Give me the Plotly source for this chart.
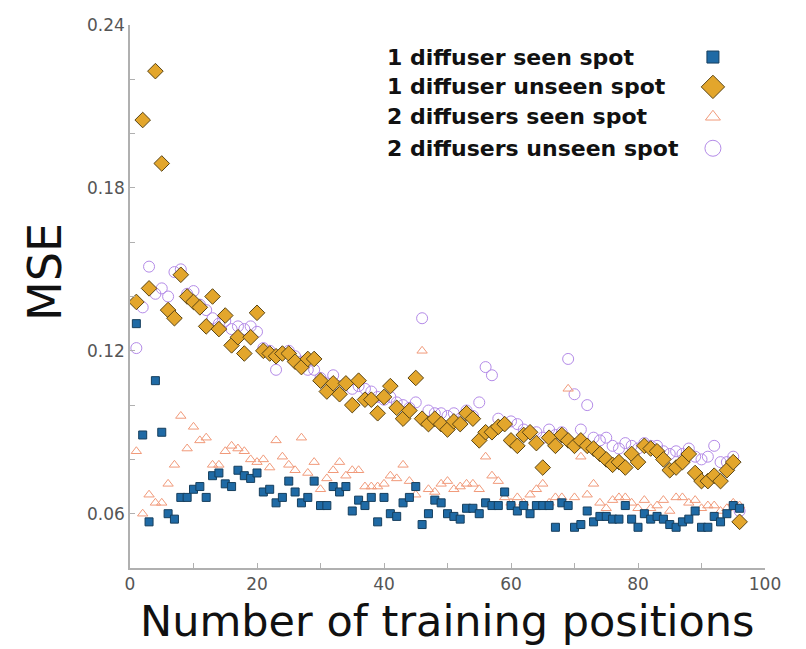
import plotly.graph_objects as go

# Number of training positions (1..96)
positions = list(range(1, 97))

# MSE, 1 diffuser, seen spot
mse_1d_seen = [
    0.130, 0.089, 0.057, 0.109, 0.090, 0.060, 0.058, 0.066, 0.066, 0.069,
    0.070, 0.066, 0.074, 0.075, 0.071, 0.070, 0.076, 0.074, 0.073, 0.075,
    0.068, 0.069, 0.064, 0.066, 0.072, 0.068, 0.064, 0.066, 0.072, 0.063,
    0.063, 0.070, 0.068, 0.070, 0.061, 0.065, 0.063, 0.066, 0.057, 0.066,
    0.060, 0.059, 0.064, 0.066, 0.070, 0.056, 0.060, 0.065, 0.064, 0.060,
    0.059, 0.058, 0.062, 0.062, 0.060, 0.064, 0.063, 0.063, 0.068, 0.063,
    0.061, 0.063, 0.060, 0.063, 0.063, 0.063, 0.055, 0.064, 0.063, 0.055,
    0.056, 0.061, 0.057, 0.059, 0.059, 0.058, 0.058, 0.063, 0.058, 0.055,
    0.060, 0.058, 0.059, 0.058, 0.056, 0.055, 0.057, 0.058, 0.061, 0.055,
    0.055, 0.059, 0.057, 0.060, 0.063, 0.062,
]

# MSE, 1 diffuser, unseen spot
mse_1d_unseen = [
    0.138, 0.205, 0.143, 0.223, 0.189, 0.135, 0.132, 0.148, 0.140, 0.138,
    0.136, 0.129, 0.140, 0.128, 0.133, 0.122, 0.125, 0.119, 0.125, 0.134,
    0.120, 0.119, 0.118, 0.119, 0.119, 0.116, 0.114, 0.117, 0.117, 0.109,
    0.105, 0.108, 0.104, 0.108, 0.100, 0.109, 0.102, 0.102, 0.097, 0.103,
    0.107, 0.099, 0.095, 0.098, 0.110, 0.095, 0.093, 0.095, 0.093, 0.091,
    0.094, 0.093, 0.097, 0.095, 0.087, 0.090, 0.090, 0.092, 0.093, 0.087,
    0.085, 0.089, 0.090, 0.086, 0.077, 0.088, 0.085, 0.089, 0.087, 0.085,
    0.087, 0.085, 0.084, 0.082, 0.080, 0.078, 0.079, 0.077, 0.082, 0.079,
    0.085, 0.084, 0.083, 0.080, 0.076, 0.077, 0.079, 0.082, 0.075, 0.072,
    0.072, 0.074, 0.072, 0.076, 0.079, 0.057,
]

# MSE, 2 diffusers, seen spot
mse_2d_seen = [
    0.083, 0.060, 0.067, 0.064, 0.064, 0.071, 0.078, 0.096, 0.084, 0.092,
    0.087, 0.088, 0.078, 0.078, 0.083, 0.085, 0.084, 0.083, 0.080, 0.079,
    0.080, 0.077, 0.087, 0.081, 0.078, 0.076, 0.088, 0.075, 0.079, 0.069,
    0.073, 0.076, 0.079, 0.074, 0.076, 0.076, 0.070, 0.070, 0.070, 0.071,
    0.074, 0.073, 0.078, 0.072, 0.067, 0.120, 0.069, 0.068, 0.071, 0.072,
    0.069, 0.070, 0.071, 0.071, 0.069, 0.081, 0.074, 0.072, 0.066, 0.064,
    0.066, 0.064, 0.067, 0.069, 0.071, 0.064, 0.066, 0.066, 0.106, 0.066,
    0.081, 0.067, 0.071, 0.064, 0.062, 0.065, 0.066, 0.066, 0.064, 0.062,
    0.065, 0.062, 0.063, 0.065, 0.061, 0.066, 0.066, 0.064, 0.065, 0.062,
    0.063, 0.063, 0.061, 0.062, 0.064, 0.063,
]

# MSE, 2 diffusers, unseen spot
mse_2d_unseen = [
    0.121, 0.136, 0.151, 0.141, 0.143, 0.140, 0.149, 0.150, 0.141, 0.142,
    0.137, 0.135, 0.132, 0.130, 0.131, 0.128, 0.129, 0.128, 0.129, 0.127,
    0.121, 0.120, 0.113, 0.119, 0.120, 0.118, 0.116, 0.113, 0.113, 0.110,
    0.108, 0.111, 0.107, 0.108, 0.106, 0.107, 0.106, 0.105, 0.103, 0.102,
    0.103, 0.101, 0.100, 0.099, 0.101, 0.132, 0.098, 0.097, 0.097, 0.096,
    0.097, 0.095, 0.098, 0.096, 0.101, 0.114, 0.111, 0.095, 0.093, 0.094,
    0.093, 0.091, 0.090, 0.090, 0.088, 0.091, 0.089, 0.090, 0.117, 0.104,
    0.091, 0.100, 0.088, 0.087, 0.088, 0.085, 0.084, 0.086, 0.085, 0.084,
    0.086, 0.085, 0.085, 0.083, 0.082, 0.083, 0.082, 0.084, 0.081, 0.080,
    0.081, 0.085, 0.079, 0.079, 0.081, 0.061,
]

series_names = [
    "1 diffuser seen spot",
    "1 diffuser unseen spot",
    "2 diffusers seen spot",
    "2 diffusers unseen spot",
]

# marker style per series: (symbol, size, fill, line colour, line width)
styles = [
    ("square", 8, "#1f6aa5", "#163f5e", 1),
    ("diamond", 12, "#e3a62c", "#5a4515", 1),
    ("triangle-up-open", 9, "rgba(0,0,0,0)", "#f19a7a", 1),
    ("circle-open", 11, "rgba(0,0,0,0)", "#b48be8", 1),
]

# draw order: open markers under the filled ones
draw_order = [3, 2, 1, 0]
all_values = [mse_1d_seen, mse_1d_unseen, mse_2d_seen, mse_2d_unseen]

fig = go.Figure()
for i in draw_order:
    sym, size, fill, edge, lw = styles[i]
    fig.add_trace(go.Scatter(
        x=positions, y=all_values[i], mode="markers", name=series_names[i],
        marker=dict(symbol=sym, size=size, color=fill if "open" not in sym else edge,
                    line=dict(color=edge, width=lw)),
        showlegend=False,
    ))

# legend keys on an overlay axis, text left-aligned, key to the right
text_x = 0.4016
key_x = 0.918
key_y = [0.941, 0.886, 0.831, 0.773]
key_sizes = [12, 18, 13, 16]
for i in range(4):
    sym, size, fill, edge, lw = styles[i]
    fig.add_trace(go.Scatter(
        x=[key_x], y=[key_y[i]], xaxis="x2", yaxis="y2", mode="markers",
        marker=dict(symbol=sym, size=key_sizes[i],
                    color=fill if "open" not in sym else edge,
                    line=dict(color=edge, width=lw)),
        showlegend=False, hoverinfo="skip",
    ))
    fig.add_annotation(
        x=text_x, y=key_y[i], xref="x2", yref="y2", text="<b>%s</b>" % series_names[i],
        showarrow=False, xanchor="left", yanchor="middle",
        font=dict(family="DejaVu Sans", size=22, color="#111111"),
    )

axis_common = dict(
    showline=True, linecolor="#b0b0b0", linewidth=1.5, mirror=False,
    ticks="inside", ticklen=5, tickcolor="#b0b0b0", showgrid=False, zeroline=False,
    tickfont=dict(family="DejaVu Sans", size=17, color="#555555"),
)

fig.update_layout(
    width=806, height=649,
    margin=dict(l=130, r=41, t=25, b=81),
    paper_bgcolor="white", plot_bgcolor="white",
    xaxis=dict(range=[0, 100], tickvals=[0, 20, 40, 60, 80, 100],
               minor=dict(dtick=10, ticks="inside", ticklen=5, tickcolor="#b0b0b0"),
               **axis_common),
    yaxis=dict(range=[0.04, 0.24], tickvals=[0.06, 0.12, 0.18, 0.24],
               tickformat=".2f",
               minor=dict(dtick=0.02, ticks="inside", ticklen=5, tickcolor="#b0b0b0"),
               **axis_common),
    xaxis2=dict(range=[0, 1], overlaying="x", visible=False),
    yaxis2=dict(range=[0, 1], overlaying="y", visible=False),
    showlegend=False,
)

# axis titles
fig.add_annotation(
    text="Number of training positions", xref="paper", yref="paper",
    x=0.5, y=-0.097, xanchor="center", yanchor="middle", showarrow=False,
    font=dict(family="DejaVu Sans", size=43, color="#111111"),
)
fig.add_annotation(
    text="MSE", xref="paper", yref="paper", x=-0.134, y=0.545, textangle=-90,
    xanchor="center", yanchor="middle", showarrow=False,
    font=dict(family="DejaVu Sans", size=46, color="#111111"),
)

fig.write_html("out.html")
